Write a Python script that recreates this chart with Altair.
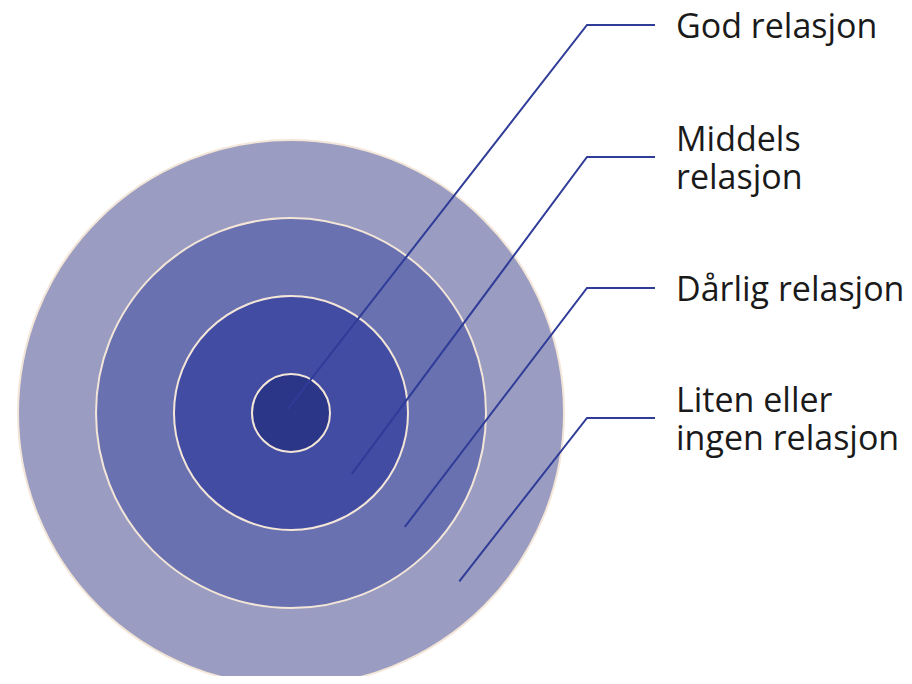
import math
import altair as alt
import pandas as pd

# ---- data ----
labels = ["God relasjon", "Middels\nrelasjon", "Dårlig relasjon", "Liten eller\ningen relasjon"]
ring_radius = [39, 117, 195, 273]            # outer radius of each zone (px of the diagram)
ring_colors = ["#2c3688", "#434ca3", "#6a71b0", "#9a9cc1"]
label_y = [25, 157, 288, 418]                # vertical position of each leader's arm
leader_dist = [-5, 86, 161, 238]             # where each leader starts, along the 45° diagonal

centre_x, centre_y = 291, 413
elbow_x, end_x, text_x = 587, 655, 676
line_h = 38

W, H = 896, 668
xs = alt.Scale(domain=[8, 8 + W], nice=False, zero=False)
ys = alt.Scale(domain=[8, 8 + H], nice=False, zero=False, reverse=True)

rings = pd.DataFrame({
    "zone": labels,
    "r": ring_radius,
    "color": ring_colors,
    "order": [3, 2, 1, 0],
    "cx": [centre_x] * 4,
    "cy": [centre_y] * 4,
})

circles = alt.Chart(rings).transform_calculate(
    size="pow(2 * datum.r, 2)"
).mark_circle(opacity=1, stroke="#f3e6d8", strokeWidth=2).encode(
    x=alt.X("cx:Q", scale=xs, axis=None),
    y=alt.Y("cy:Q", scale=ys, axis=None),
    size=alt.Size("size:Q", scale=None, legend=None),
    color=alt.Color("color:N", scale=None, legend=None),
    order=alt.Order("order:Q"),
)

rows = []
for lab, d, ly in zip(labels, leader_dist, label_y):
    sx = centre_x + d * math.cos(math.pi / 4)
    sy = centre_y + d * math.sin(math.pi / 4)
    rows += [
        {"zone": lab, "step": 0, "x": sx, "y": sy},
        {"zone": lab, "step": 1, "x": elbow_x, "y": ly},
        {"zone": lab, "step": 2, "x": end_x, "y": ly},
    ]
leaders = alt.Chart(pd.DataFrame(rows)).mark_line(
    color="#2f3c98", strokeWidth=2
).encode(
    x=alt.X("x:Q", scale=xs, axis=None),
    y=alt.Y("y:Q", scale=ys, axis=None),
    detail="zone:N",
    order="step:Q",
)

text_df = pd.DataFrame({
    "zone": labels,
    "x": [text_x] * 4,
    "y": [ly - (lab.count("\n")) * line_h / 2 for lab, ly in zip(labels, label_y)],
})
texts = alt.Chart(text_df).mark_text(
    align="left", baseline="middle", font="Open Sans", fontSize=34, dy=3,
    color="#1a1a1a", lineBreak="\n", lineHeight=line_h,
).encode(
    x=alt.X("x:Q", scale=xs, axis=None),
    y=alt.Y("y:Q", scale=ys, axis=None),
    text="zone:N",
)

chart = alt.layer(circles, leaders, texts).properties(
    width=W, height=H, padding=0, background="white",
    autosize=alt.AutoSizeParams(type="none"),
).configure_view(stroke=None)

chart.save("out.html", embed_options={"renderer": "svg", "actions": False})
